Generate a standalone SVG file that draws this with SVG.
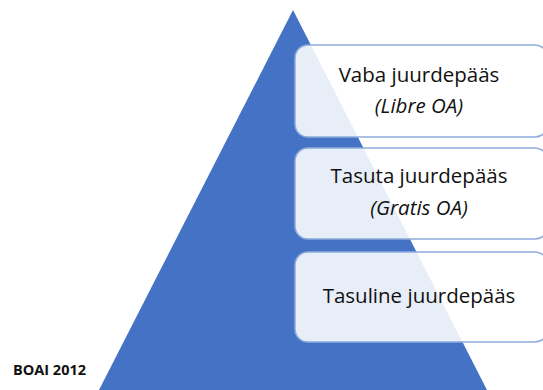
<svg xmlns="http://www.w3.org/2000/svg" width="543" height="390" viewBox="0 0 543 390">
  <style>
    .box { fill: #ffffff; fill-opacity: 0.88; stroke: #8eaadb; stroke-width: 1.5; }
    .lbl { font-family: "Open Sans", "Liberation Sans", sans-serif; font-size: 20.5px; fill: #111111; text-anchor: middle; }
    .it { font-style: italic; }
  </style>
  <rect width="543" height="390" fill="#ffffff"/>
  <g id="pyramid">
    <polygon points="293,10 99,390 487,390" fill="#4472c4"/>
  </g>
  <g id="libre">
    <rect class="box" x="295" y="45" width="253" height="92" rx="13"/>
    <text class="lbl" x="419" y="82">Vaba juurdepääs</text>
    <text class="lbl it" x="419" y="113">(Libre OA)</text>
  </g>
  <g id="gratis">
    <rect class="box" x="295" y="148" width="253" height="91" rx="13"/>
    <text class="lbl" x="419" y="183">Tasuta juurdepääs</text>
    <text class="lbl it" x="419" y="215">(Gratis OA)</text>
  </g>
  <g id="tasuline">
    <rect class="box" x="295" y="252" width="253" height="90" rx="13"/>
    <text class="lbl" x="419" y="303">Tasuline juurdepääs</text>
  </g>
  <g id="source">
    <text x="13" y="375" font-family="Open Sans, Liberation Sans, sans-serif" font-size="14.5" font-weight="bold" fill="#111111">BOAI 2012</text>
  </g>
</svg>
